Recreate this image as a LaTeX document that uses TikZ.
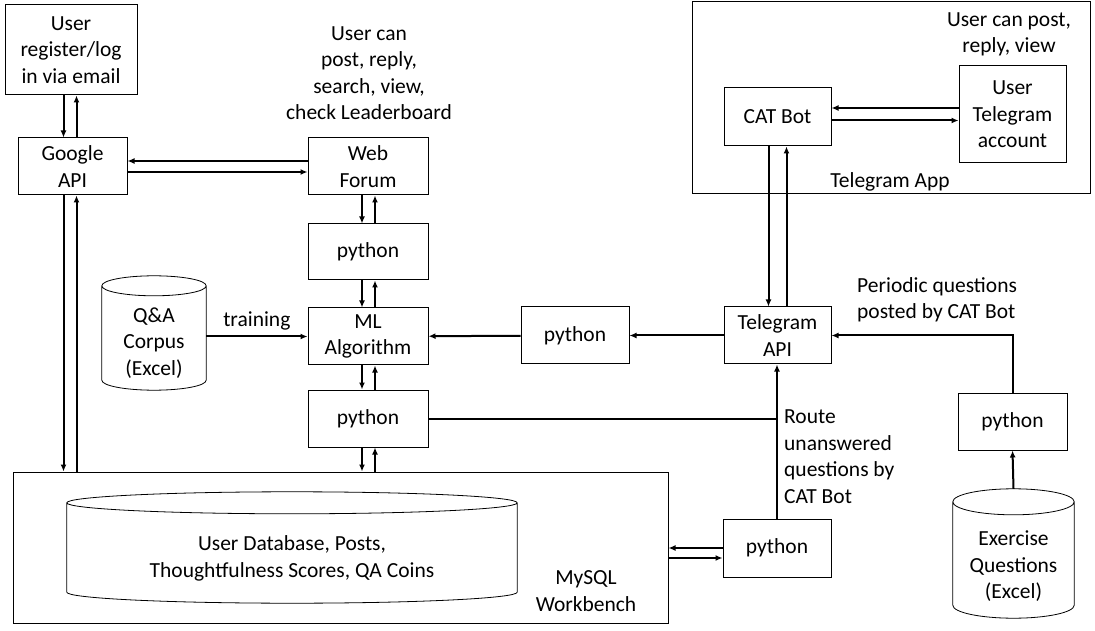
\documentclass[tikz,border=0pt]{standalone}
\usepackage{fontspec}
\setmainfont{Carlito}
\usepackage{tikz}
\usetikzlibrary{positioning,arrows.meta,calc}
\tikzstyle{box} = [rectangle, draw, line width=1pt, text centered, align=center, inner sep=1pt]
\tikzstyle{frame} = [rectangle, draw, line width=1pt]
\tikzstyle{dbbody} = [rectangle, align=center, inner sep=0pt]
\tikzstyle{note} = [align=center, inner sep=0pt]
\tikzstyle{leftnote} = [align=left, anchor=west, inner sep=0pt]
\tikzstyle{line} = [draw, line width=2pt, -{Latex[length=7pt,width=6pt]}]
\tikzstyle{plain} = [draw, line width=2pt]

\begin{document}
\begin{tikzpicture}[x=1pt, y=1pt, font=\fontsize{21.5}{26.5}\selectfont]
   \useasboundingbox (0,0) rectangle (1095,630);

   % Large Boxes %%%%%%%%%%%%%%%%%%%%%%%%%%%%%%%%%%%%%%%%%%%%%%%%%%%%%%
      \node[frame, minimum width=398pt, minimum height=192pt](TGapp) at (891,532){};
      \node[note] (TGappname) at (890,448) {Telegram App};

      \node[frame, minimum width=655pt, minimum height=151pt](MySQL) at (340.5,82.5){};
      \node[note] (MySQLname) at (586,39) {MySQL\\Workbench};

   % WEB FORUM SPINE %%%%%%%%%%%%%%%%%%%%%%%%%%%%%%%%%%%%%%%%%%%%%%%%%%
      \node[box, minimum width=132pt, minimum height=90pt](Register) at (71,580){%
         User\\register/log\\in via email};

      \node[box, minimum width=109pt, minimum height=57pt](Google) at (72.5,463.5){Google\\API};

      \node[box, minimum width=120pt, minimum height=57pt](Forum) at (368,463.5){Web\\Forum};
      \node[note] (Forumnote) at (369,557) {User can\\post, reply,\\search, view,\\check Leaderboard};

      \node[box, below=28pt of Forum, minimum width=120pt, minimum height=56pt](PyForum){python};

      \node[box, below=27pt of PyForum, minimum width=120pt, minimum height=57pt](ML){ML\\Algorithm};

      \node[box, below=24pt of ML, minimum width=120pt, minimum height=57pt](PyDB){python};

      \node[dbbody, minimum width=104pt, minimum height=94pt](Corpus) at (154,287){%
         Q\&A\\Corpus\\(Excel)};

      \node[dbbody, minimum width=450pt, minimum height=89pt](UserDB) at (292,71.5){%
         User Database, Posts,\\Thoughtfulness Scores, QA Coins};

   % TELEGRAM SPINE %%%%%%%%%%%%%%%%%%%%%%%%%%%%%%%%%%%%%%%%%%%%%%%%%%%%%%%%%%
      \node[box, minimum width=107pt, minimum height=58pt](CATBot) at (777.5,513){CAT Bot};

      \node[box, minimum width=107pt, minimum height=97pt](TGuser) at (1012.5,515.5){%
         User\\Telegram\\account};
      \node[note] (TGusernote) at (1009,595.5) {User can post,\\reply, view};

      \node[box, minimum width=107pt, minimum height=57pt](TGapi) at (777.5,294.5){Telegram\\API};

      \node[box, left=94pt of TGapi, minimum width=108pt, minimum height=57pt](PyTG){python};

      \node[box, minimum width=109pt, minimum height=57pt](PyExercise) at (1012.5,208.5){python};
      \node[leftnote] (Periodicnote) at (857,330) {Periodic questions\\posted by CAT Bot};

      \node[dbbody, minimum width=121pt, minimum height=103pt](Exercise) at (1013.5,63.5){%
         Exercise\\Questions\\(Excel)};

      \node[box, minimum width=108pt, minimum height=58pt](PyRoute) at (777,82){python};
      \node[leftnote] (Routenote) at (784,173.5) {Route\\unanswered\\questions by\\CAT Bot};

   % Cylinders
      \foreach \db/\r in {Corpus/10, UserDB/11, Exercise/13}{
         \draw[line width=0.8pt] let \p1 = ($(\db.east)-(\db.west)$) in
            ([yshift=\r pt]\db.north west) -- ([yshift=\r pt]\db.south west)
            arc[start angle=180, end angle=360, x radius=0.5*\x1, y radius=\r pt]
            -- ([yshift=\r pt]\db.north east)
            arc[start angle=0, end angle=360, x radius=0.5*\x1, y radius=\r pt];
      }

   % Draw edges
   % Login
      \path [line] ([xshift=-9pt]Google.north |- Register.south) -- ([xshift=-9pt]Google.north);
      \path [line] ([xshift=4pt]Google.north) -- ([xshift=4pt]Google.north |- Register.south);
      \path [line] ([yshift=5.5pt]Forum.west) -- ([yshift=5.5pt]Forum.west -| Google.east);
      \path [line] ([yshift=-5.5pt]Google.east) -- ([yshift=-5.5pt]Google.east -| Forum.west);
      \path [line] ([xshift=-9pt]Google.south) -- ([xshift=-9pt]Google.south |- MySQL.north);
      \path [line] ([xshift=4pt]Google.south |- MySQL.north) -- ([xshift=4pt]Google.south);

   % Main spine
      \path [line] ([xshift=-6pt]Forum.south) -- ([xshift=-6pt]PyForum.north);
      \path [line] ([xshift=7pt]PyForum.north) -- ([xshift=7pt]Forum.south);
      \path [line] ([xshift=-6pt]PyForum.south) -- ([xshift=-6pt]ML.north);
      \path [line] ([xshift=7pt]ML.north) -- ([xshift=7pt]PyForum.south);
      \path [line] ([xshift=-6pt]ML.south) -- ([xshift=-6pt]PyDB.north);
      \path [line] ([xshift=7pt]PyDB.north) -- ([xshift=7pt]ML.south);
      \path [line] ([xshift=-6pt]PyDB.south) -- ([xshift=-6pt]PyDB.south |- MySQL.north);
      \path [line] ([xshift=7pt]PyDB.south |- MySQL.north) -- ([xshift=7pt]PyDB.south);
      \path [line] (Corpus.east |- ML.west) -- node[above=2pt]{training} (ML.west);

   % Telegram side
      \path [line] ([yshift=9pt]CATBot.east -| TGuser.west) -- ([yshift=9pt]CATBot.east);
      \path [line] ([yshift=-3.5pt]CATBot.east) -- ([yshift=-3.5pt]CATBot.east -| TGuser.west);
      \path [line] ([xshift=-9pt]CATBot.south) -- ([xshift=-9pt]TGapi.north);
      \path [line] ([xshift=9pt]TGapi.north) -- ([xshift=9pt]CATBot.south);
      \path [line] (TGapi) -- (PyTG);
      \path [line] (PyTG) -- (ML);
      \path [line] (PyExercise.north) |- (TGapi.east);
      \path [line] ([yshift=26pt]Exercise.north) -- (PyExercise.south);
      \path [line] (PyRoute.north) -- (PyRoute.north |- TGapi.south);
      \path [plain] (PyDB.east) -- (PyDB.east -| PyRoute.north);
      \path [line] (PyRoute.west) -- (PyRoute.west -| MySQL.east);
      \path [line] ([yshift=-10pt]MySQL.east |- PyRoute.west) -- ([yshift=-10pt]PyRoute.west);

\end{tikzpicture}
\end{document}
